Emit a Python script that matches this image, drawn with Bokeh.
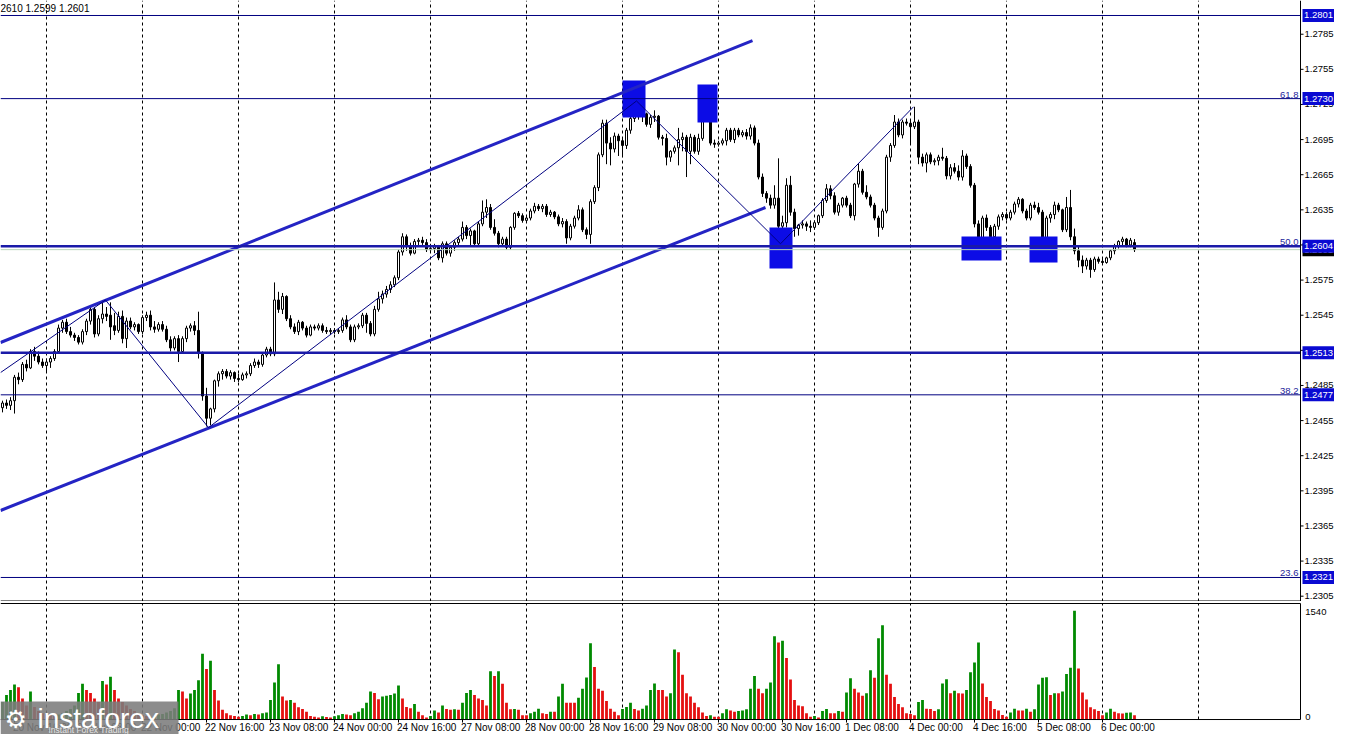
from bokeh.plotting import figure
from bokeh.layouts import column
from bokeh.models import ColumnDataSource, FixedTicker, Grid, Range1d
from bokeh.core.properties import value
from bokeh.embed import file_html
from bokeh.resources import INLINE

# ---------------------------------------------------------------- data
# hourly bars, bar 0 = 21 Nov 00:00 (weekends skipped); prices in pips above 1.0000
FIRST_BAR = -11

OPEN_PIPS = [
    2466, 2470, 2468, 2472, 2492, 2490, 2503, 2500, 2514, 2510, 2505,
    2502, 2505, 2508, 2514, 2534, 2539, 2531, 2528, 2526, 2522,
    2531, 2540, 2550, 2529, 2542, 2546, 2545, 2536, 2532, 2544,
    2525, 2540, 2535, 2537, 2531, 2543, 2545, 2535, 2533, 2537,
    2533, 2524, 2517, 2525, 2514, 2525, 2534, 2536, 2532, 2513,
    2476, 2457, 2465, 2489, 2495, 2497, 2493, 2496, 2491, 2490,
    2494, 2495, 2502, 2505, 2503, 2511, 2516, 2512, 2558, 2550,
    2561, 2542, 2535, 2531, 2539, 2534, 2528, 2535, 2534, 2536,
    2532, 2531, 2532, 2531, 2532, 2541, 2535, 2524, 2535, 2536,
    2545, 2538, 2529, 2550, 2559, 2563, 2567, 2571, 2577, 2599,
    2612, 2604, 2598, 2608, 2609, 2607, 2601, 2602, 2604, 2594,
    2606, 2598, 2603, 2607, 2610, 2620, 2613, 2617, 2606, 2623,
    2633, 2637, 2620, 2615, 2606, 2610, 2603, 2620, 2632, 2630,
    2626, 2628, 2634, 2638, 2636, 2638, 2631, 2633, 2629, 2623,
    2625, 2611, 2621, 2628, 2635, 2618, 2614, 2642, 2654, 2682,
    2709, 2692, 2687, 2698, 2694, 2690, 2703, 2713, 2719, 2715,
    2717, 2708, 2714, 2715, 2697, 2696, 2680, 2685, 2688, 2695,
    2697, 2685, 2697, 2685, 2696, 2716, 2720, 2692, 2691, 2692,
    2694, 2703, 2695, 2703, 2699, 2701, 2698, 2705, 2692, 2663,
    2649, 2645, 2639, 2645, 2621, 2624, 2656, 2633, 2619, 2622,
    2623, 2621, 2620, 2624, 2630, 2643, 2653, 2647, 2633, 2639,
    2645, 2639, 2630, 2657, 2668, 2650, 2646, 2639, 2628, 2620,
    2634, 2680, 2690, 2710, 2699, 2710, 2709, 2706, 2710, 2680,
    2675, 2682, 2676, 2677, 2680, 2679, 2664, 2671, 2668, 2663,
    2681, 2672, 2656, 2623, 2610, 2628, 2620, 2612, 2621, 2629,
    2631, 2628, 2633, 2640, 2644, 2634, 2628, 2639, 2637, 2633,
    2611, 2628, 2631, 2639, 2635, 2618, 2637, 2612, 2600, 2592,
    2587, 2592, 2584, 2593, 2591, 2590, 2594, 2600, 2604, 2608,
    2610, 2605, 2607,
]
HIGH_PIPS = [
    2472, 2473, 2475, 2494, 2496, 2505, 2507, 2516, 2518, 2514, 2508,
    2508, 2510, 2516, 2537, 2541, 2542, 2535, 2530, 2528, 2533,
    2542, 2552, 2552, 2545, 2558, 2552, 2556, 2547, 2548, 2549,
    2543, 2543, 2539, 2538, 2545, 2548, 2549, 2540, 2539, 2540,
    2536, 2527, 2527, 2528, 2527, 2536, 2538, 2540, 2548, 2514,
    2483, 2466, 2490, 2497, 2499, 2499, 2498, 2497, 2495, 2496,
    2497, 2504, 2508, 2507, 2513, 2518, 2518, 2573, 2565, 2564,
    2562, 2545, 2538, 2541, 2540, 2536, 2537, 2537, 2538, 2538,
    2535, 2534, 2534, 2534, 2543, 2545, 2537, 2537, 2538, 2547,
    2547, 2540, 2553, 2565, 2566, 2570, 2574, 2579, 2601, 2615,
    2614, 2607, 2610, 2611, 2612, 2610, 2606, 2606, 2605, 2608,
    2608, 2605, 2609, 2612, 2625, 2622, 2619, 2618, 2625, 2643,
    2644, 2640, 2627, 2617, 2612, 2612, 2621, 2633, 2634, 2632,
    2630, 2636, 2641, 2640, 2640, 2640, 2635, 2634, 2631, 2628,
    2627, 2623, 2630, 2639, 2637, 2620, 2644, 2656, 2684, 2712,
    2712, 2697, 2701, 2700, 2696, 2705, 2716, 2722, 2727, 2720,
    2718, 2716, 2720, 2716, 2699, 2700, 2686, 2690, 2705, 2701,
    2699, 2700, 2699, 2700, 2718, 2726, 2722, 2695, 2694, 2696,
    2705, 2705, 2705, 2705, 2703, 2704, 2708, 2707, 2695, 2666,
    2651, 2648, 2656, 2679, 2630, 2662, 2664, 2636, 2623, 2626,
    2625, 2626, 2626, 2631, 2645, 2657, 2656, 2650, 2641, 2646,
    2647, 2641, 2658, 2675, 2670, 2656, 2648, 2641, 2630, 2636,
    2682, 2692, 2716, 2713, 2712, 2713, 2711, 2723, 2712, 2683,
    2684, 2684, 2679, 2682, 2688, 2681, 2674, 2675, 2673, 2686,
    2683, 2674, 2658, 2626, 2630, 2631, 2622, 2623, 2631, 2633,
    2633, 2635, 2642, 2646, 2645, 2636, 2641, 2642, 2641, 2635,
    2630, 2633, 2642, 2641, 2636, 2646, 2652, 2619, 2604, 2596,
    2594, 2594, 2595, 2595, 2594, 2595, 2601, 2606, 2609, 2612,
    2611, 2611, 2610,
]
LOW_PIPS = [
    2462, 2465, 2464, 2461, 2486, 2488, 2497, 2499, 2506, 2503, 2500,
    2497, 2500, 2506, 2512, 2530, 2529, 2526, 2523, 2520, 2520,
    2528, 2537, 2526, 2527, 2538, 2540, 2524, 2528, 2530, 2521,
    2517, 2533, 2532, 2529, 2529, 2540, 2532, 2530, 2531, 2531,
    2522, 2514, 2515, 2505, 2512, 2522, 2531, 2528, 2508, 2472,
    2450, 2451, 2462, 2484, 2490, 2491, 2490, 2488, 2488, 2489,
    2491, 2493, 2500, 2500, 2501, 2509, 2510, 2510, 2547, 2546,
    2540, 2533, 2529, 2528, 2532, 2526, 2527, 2532, 2532, 2530,
    2529, 2528, 2529, 2529, 2530, 2533, 2522, 2522, 2533, 2534,
    2530, 2527, 2527, 2548, 2555, 2560, 2564, 2569, 2575, 2596,
    2600, 2596, 2597, 2605, 2605, 2599, 2600, 2598, 2592, 2590,
    2596, 2595, 2600, 2604, 2608, 2610, 2604, 2604, 2604, 2621,
    2628, 2618, 2613, 2603, 2604, 2601, 2601, 2618, 2628, 2624,
    2624, 2626, 2632, 2634, 2633, 2629, 2629, 2627, 2621, 2620,
    2606, 2609, 2619, 2626, 2616, 2610, 2606, 2640, 2651, 2680,
    2674, 2673, 2684, 2681, 2680, 2687, 2700, 2710, 2712, 2710,
    2706, 2705, 2710, 2695, 2690, 2673, 2676, 2683, 2673, 2685,
    2663, 2674, 2683, 2682, 2694, 2711, 2690, 2688, 2689, 2690,
    2690, 2693, 2692, 2697, 2697, 2695, 2695, 2690, 2661, 2646,
    2641, 2636, 2636, 2610, 2607, 2620, 2630, 2612, 2613, 2619,
    2617, 2616, 2618, 2622, 2628, 2641, 2644, 2631, 2630, 2637,
    2637, 2628, 2626, 2654, 2648, 2644, 2637, 2626, 2612, 2618,
    2632, 2676, 2688, 2697, 2696, 2707, 2692, 2704, 2674, 2672,
    2667, 2674, 2673, 2673, 2677, 2661, 2661, 2666, 2660, 2660,
    2670, 2654, 2620, 2605, 2607, 2617, 2607, 2606, 2618, 2626,
    2626, 2626, 2631, 2637, 2632, 2626, 2626, 2635, 2631, 2609,
    2609, 2624, 2627, 2633, 2616, 2616, 2609, 2597, 2586, 2581,
    2584, 2577, 2582, 2589, 2588, 2589, 2592, 2597, 2602, 2604,
    2603, 2603, 2599,
]
CLOSE_PIPS = [
    2470, 2468, 2472, 2492, 2490, 2503, 2500, 2514, 2510, 2505, 2502,
    2505, 2508, 2514, 2534, 2539, 2531, 2528, 2526, 2522, 2531,
    2540, 2550, 2529, 2542, 2546, 2544, 2535, 2532, 2544, 2525,
    2540, 2535, 2537, 2531, 2543, 2545, 2535, 2533, 2537, 2533,
    2524, 2517, 2525, 2514, 2525, 2534, 2536, 2532, 2513, 2476,
    2457, 2465, 2489, 2495, 2497, 2493, 2496, 2491, 2490, 2494,
    2495, 2502, 2505, 2503, 2511, 2516, 2512, 2558, 2550, 2561,
    2542, 2535, 2531, 2539, 2534, 2528, 2535, 2534, 2536, 2532,
    2531, 2532, 2531, 2532, 2541, 2535, 2524, 2535, 2536, 2545,
    2538, 2529, 2550, 2559, 2563, 2567, 2571, 2577, 2599, 2612,
    2604, 2598, 2608, 2609, 2607, 2601, 2602, 2604, 2594, 2606,
    2598, 2603, 2607, 2610, 2620, 2613, 2617, 2606, 2623, 2633,
    2637, 2620, 2615, 2606, 2610, 2603, 2620, 2632, 2630, 2626,
    2628, 2634, 2638, 2636, 2638, 2631, 2633, 2629, 2623, 2625,
    2611, 2621, 2628, 2635, 2618, 2614, 2642, 2654, 2682, 2709,
    2692, 2687, 2698, 2694, 2690, 2703, 2713, 2719, 2715, 2717,
    2708, 2714, 2715, 2697, 2696, 2680, 2685, 2688, 2695, 2697,
    2685, 2697, 2685, 2696, 2716, 2720, 2692, 2691, 2692, 2694,
    2703, 2695, 2703, 2699, 2701, 2698, 2705, 2692, 2663, 2649,
    2645, 2639, 2645, 2621, 2624, 2656, 2633, 2619, 2622, 2623,
    2621, 2620, 2624, 2630, 2643, 2653, 2647, 2633, 2639, 2645,
    2639, 2630, 2657, 2668, 2650, 2646, 2639, 2628, 2620, 2634,
    2680, 2690, 2710, 2699, 2710, 2709, 2706, 2710, 2680, 2675,
    2682, 2676, 2677, 2680, 2679, 2664, 2671, 2668, 2663, 2681,
    2672, 2656, 2623, 2610, 2628, 2620, 2612, 2621, 2629, 2631,
    2628, 2633, 2640, 2644, 2634, 2628, 2639, 2637, 2633, 2611,
    2628, 2631, 2639, 2635, 2618, 2637, 2612, 2600, 2592, 2587,
    2592, 2584, 2593, 2591, 2590, 2594, 2600, 2604, 2608, 2610,
    2605, 2609, 2601,
]
VOLUMES = [
    250, 350, 420, 500, 460, 300, 200, 400, 180, 120, 90,
    80, 60, 50, 70, 90, 120, 150, 200, 380, 510, 420, 380, 300, 250, 550, 500, 610, 420, 300, 250, 200, 150, 120, 90,
    60, 50, 40, 50, 70, 80, 100, 120, 160, 420, 400, 300, 370, 420, 560, 940, 720, 840, 420, 270, 140, 90, 60, 50,
    40, 50, 70, 60, 80, 70, 90, 100, 280, 530, 790, 330, 270, 280, 240, 175, 150, 110, 50, 40, 30, 45, 35, 30,
    45, 60, 80, 70, 60, 90, 110, 160, 240, 400, 380, 290, 330, 340, 350, 370, 485, 300, 180, 160, 220, 110, 60, 30,
    50, 130, 100, 200, 150, 140, 145, 140, 240, 380, 420, 350, 300, 280, 200, 690, 620, 690, 510, 240, 145, 150, 140, 60,
    60, 90, 110, 155, 90, 80, 110, 110, 330, 510, 240, 240, 240, 310, 440, 600, 1090, 750, 440, 410, 265, 155, 110, 60,
    150, 180, 240, 150, 130, 155, 200, 420, 515, 420, 420, 330, 375, 1000, 960, 640, 375, 330, 240, 175, 100, 50, 60, 40,
    40, 90, 145, 130, 110, 120, 130, 145, 440, 620, 440, 375, 440, 530, 1190, 1100, 1125, 880, 570, 280, 200, 190, 90, 40,
    50, 30, 120, 150, 90, 90, 120, 110, 385, 590, 440, 385, 340, 375, 705, 595, 1160, 1345, 640, 510, 320, 220, 175, 90,
    80, 60, 250, 280, 155, 150, 120, 145, 515, 575, 375, 410, 375, 370, 420, 675, 815, 1100, 515, 320, 265, 150, 130, 65,
    40, 100, 155, 130, 130, 155, 110, 145, 500, 595, 605, 350, 375, 375, 400, 650, 740, 1555, 730, 385, 285, 175, 145, 120,
    60, 100, 155, 110, 90, 85, 95, 100, 60,
]

PRICE_TICKS = [1.2305, 1.2335, 1.2365, 1.2395, 1.2425, 1.2455, 1.2485, 1.2515, 1.2545,
               1.2575, 1.2605, 1.2635, 1.2665, 1.2695, 1.2725, 1.2755, 1.2785]
VOLUME_TICKS = [0, 1540]
VOLUME_TICK_LABELS = ["0", "1540"]
DAY_GRID_BARS = [0, 24, 48, 72, 96, 120, 144, 168, 192, 216, 240, 264, 288]
TIME_TICK_BARS = [-8, 8, 24, 40, 56, 72, 88, 104, 120, 136, 152, 168, 184, 200, 216, 232, 248, 264]
TIME_TICK_LABELS = ["20 Nov 16:00", "21 Nov 08:00", "22 Nov 00:00", "22 Nov 16:00", "23 Nov 08:00",
                    "24 Nov 00:00", "24 Nov 16:00", "27 Nov 08:00", "28 Nov 00:00", "28 Nov 16:00",
                    "29 Nov 08:00", "30 Nov 00:00", "30 Nov 16:00", "1 Dec 08:00", "4 Dec 00:00",
                    "4 Dec 16:00", "5 Dec 08:00", "6 Dec 00:00"]

THIN_LEVELS = [1.2801, 1.2730, 1.2477, 1.2321]
THICK_LEVELS = [1.2604, 1.2513]
BID_PRICE = 1.2601
FIB_TEXTS = ["61.8", "50.0", "38.2", "23.6"]
FIB_PRICES = [1.2730, 1.2604, 1.2477, 1.2321]
MARKED_PRICES = [1.2801, 1.2730, 1.2604, 1.2513, 1.2477, 1.2321]

UPPER_CHANNEL_BARS = [-11.5, 176.5]
UPPER_CHANNEL_PRICES = [1.25217, 1.27796]
LOWER_CHANNEL_BARS = [-11.5, 179.75]
LOWER_CHANNEL_PRICES = [1.23782, 1.26370]
ZIGZAG_BARS = [-11.5, 14.75, 40.5, 147.5, 183.5, 216.75]
ZIGZAG_PRICES = [1.2496, 1.2558, 1.2449, 1.2728, 1.2606, 1.2723]

ZONE_LEFT = [144.0, 162.75, 180.75, 228.75, 245.75]
ZONE_RIGHT = [149.75, 167.75, 186.5, 238.75, 252.75]
ZONE_TOP = [1.27455, 1.27421, 1.26199, 1.26122, 1.26122]
ZONE_BOTTOM = [1.27139, 1.27096, 1.25849, 1.25917, 1.25900]

HEADER_TEXT = "2610 1.2599 1.2601"

# ---------------------------------------------------------------- geometry
n = len(CLOSE_PIPS)
for arr in (OPEN_PIPS, HIGH_PIPS, LOW_PIPS, VOLUMES):
    if len(arr) != n:
        raise ValueError("length mismatch %d vs %d" % (len(arr), n))

FONT = value("Liberation Sans")
W = 1334
PX_PER_BAR = 4.0
X0 = -11.5
X1 = X0 + W / PX_PER_BAR
AXIS_BAR = 313.5                # right price scale line
PRICE_PX = 11708.0              # pixels per 1.0 of price
P_TOP = 1.28138
P_H = 601
P_BOT = P_TOP - P_H / PRICE_PX
V_PX = 0.07                     # pixels per volume unit
V_H = 133
V_TOP = 1686.0
V_BOT = V_TOP - V_H / V_PX

x_range = Range1d(X0, X1)

bars = list(range(FIRST_BAR, FIRST_BAR + n))
o = [1 + q / 10000 for q in OPEN_PIPS]
h = [1 + q / 10000 for q in HIGH_PIPS]
l = [1 + q / 10000 for q in LOW_PIPS]
c = [1 + q / 10000 for q in CLOSE_PIPS]
src = ColumnDataSource(dict(
    bar=bars, high=h, low=l,
    top=[max(a, b) for a, b in zip(o, c)],
    bottom=[min(a, b) for a, b in zip(o, c)],
    fill=["white" if cc >= oo else "black" for oo, cc in zip(o, c)],
))


def bare_figure(height, y_range):
    f = figure(width=W, height=height, x_range=x_range, y_range=y_range,
               output_backend="svg", toolbar_location=None,
               x_axis_location=None, y_axis_location=None,
               min_border=0, min_border_left=0, min_border_right=0,
               min_border_top=0, min_border_bottom=0)
    f.outline_line_color = None
    f.background_fill_color = "white"
    f.border_fill_color = "white"
    f.grid.visible = False
    return f


# ---------------------------------------------------------------- price panel
p = bare_figure(P_H, Range1d(P_BOT, P_TOP))
p.add_layout(Grid(dimension=0, ticker=FixedTicker(ticks=DAY_GRID_BARS),
                  grid_line_color="black", grid_line_dash="3 3", grid_line_width=1))

# candles
p.segment(x0="bar", y0="low", x1="bar", y1="high", source=src, line_color="black", line_width=1)
p.vbar(x="bar", width=0.5, top="top", bottom="bottom", source=src,
       fill_color="fill", line_color="black", line_width=1)

# zones
p.quad(left=ZONE_LEFT, right=ZONE_RIGHT, top=ZONE_TOP, bottom=ZONE_BOTTOM,
       fill_color="#0c0ce6", line_color=None)

# channel and zigzag
CH_COLOR = "#2424c4"
p.line(UPPER_CHANNEL_BARS, UPPER_CHANNEL_PRICES, line_color=CH_COLOR, line_width=3)
p.line(LOWER_CHANNEL_BARS, LOWER_CHANNEL_PRICES, line_color=CH_COLOR, line_width=3)
p.line(ZIGZAG_BARS, ZIGZAG_PRICES, line_color="#000080", line_width=1)

# horizontal levels (end at the price scale)
p.segment(x0=[X0] * len(THIN_LEVELS), y0=THIN_LEVELS, x1=[AXIS_BAR] * len(THIN_LEVELS),
          y1=THIN_LEVELS, line_color="#000080", line_width=1)
p.segment(x0=[X0], y0=[BID_PRICE], x1=[AXIS_BAR], y1=[BID_PRICE], line_color="#b8d4b8", line_width=1)
p.segment(x0=[X0] * len(THICK_LEVELS), y0=THICK_LEVELS, x1=[AXIS_BAR] * len(THICK_LEVELS),
          y1=THICK_LEVELS, line_color="#1a1aa8", line_width=2.5)

p.text(x=[AXIS_BAR - 0.5] * len(FIB_TEXTS), y=FIB_PRICES, text=FIB_TEXTS, text_align="right",
       text_baseline="bottom", y_offset=-1, text_font=FONT, text_font_size=value("9.5px"),
       text_color="#24249a")

# panel bottom border
bottom_line = P_BOT + 0.5 / PRICE_PX
p.segment(x0=[X0], y0=[bottom_line], x1=[AXIS_BAR], y1=[bottom_line], line_color="black", line_width=1)

# right price scale
p.segment(x0=[AXIS_BAR], y0=[P_BOT], x1=[AXIS_BAR], y1=[P_TOP], line_color="black", line_width=1)
p.segment(x0=[AXIS_BAR] * len(PRICE_TICKS), y0=PRICE_TICKS,
          x1=[AXIS_BAR + 0.75] * len(PRICE_TICKS), y1=PRICE_TICKS, line_color="black", line_width=1)
p.text(x=[AXIS_BAR + 1.0] * len(PRICE_TICKS), y=PRICE_TICKS, text=["%.4f" % t for t in PRICE_TICKS],
       text_align="left", text_baseline="middle", text_font=FONT, text_font_size=value("9.5px"),
       text_color="black")

box_half = 6.5 / PRICE_PX
p.quad(left=[AXIS_BAR + 0.5], right=[X1], top=[BID_PRICE + box_half], bottom=[BID_PRICE - box_half],
       fill_color="black", line_color=None)
p.text(x=[AXIS_BAR + 0.9], y=[BID_PRICE], text=["%.4f" % BID_PRICE], text_align="left",
       text_baseline="middle", text_font=FONT, text_font_size=value("9.5px"), text_color="white")
p.quad(left=[AXIS_BAR + 0.5] * len(MARKED_PRICES), right=[X1] * len(MARKED_PRICES),
       top=[m + box_half for m in MARKED_PRICES], bottom=[m - box_half for m in MARKED_PRICES],
       fill_color="#0a0ad2", line_color=None)
p.text(x=[AXIS_BAR + 0.9] * len(MARKED_PRICES), y=MARKED_PRICES, text=["%.4f" % m for m in MARKED_PRICES],
       text_align="left", text_baseline="middle", text_font=FONT, text_font_size=value("9.5px"),
       text_color="white")

# header
p.text(x=[X0], y=[P_TOP - 2.0 / PRICE_PX], text=[HEADER_TEXT], text_align="left", text_baseline="top",
       text_font=FONT, text_font_size=value("10px"), text_color="black")

# ---------------------------------------------------------------- volume panel
vcolors = ["#008a00" if i == 0 or VOLUMES[i] > VOLUMES[i - 1] else "#e41010" for i in range(n)]
vsrc = ColumnDataSource(dict(bar=bars, vol=VOLUMES, color=vcolors))

v = bare_figure(V_H, Range1d(V_BOT, V_TOP))
top_line = V_TOP - 2.0 / V_PX
v.segment(x0=DAY_GRID_BARS, y0=[0] * len(DAY_GRID_BARS), x1=DAY_GRID_BARS,
          y1=[top_line] * len(DAY_GRID_BARS), line_color="black", line_dash="3 3", line_width=1)
v.vbar(x="bar", width=0.7, top="vol", bottom=0, source=vsrc, fill_color="color", line_color=None)

v.segment(x0=[X0], y0=[top_line], x1=[AXIS_BAR], y1=[top_line], line_color="black", line_width=1)
v.segment(x0=[X0], y0=[0], x1=[AXIS_BAR], y1=[0], line_color="black", line_width=1)
v.segment(x0=[AXIS_BAR], y0=[0], x1=[AXIS_BAR], y1=[top_line], line_color="black", line_width=1)

# volume scale labels
v.text(x=[AXIS_BAR + 1.2], y=[VOLUME_TICKS[1]], text=[VOLUME_TICK_LABELS[1]], text_align="left",
       text_baseline="middle", text_font=FONT, text_font_size=value("9.5px"), text_color="black")
v.text(x=[AXIS_BAR + 1.2], y=[VOLUME_TICKS[0]], text=[VOLUME_TICK_LABELS[0]], text_align="left",
       text_baseline="bottom", text_font=FONT, text_font_size=value("9.5px"), text_color="black")

# time scale
tick_len = 3.0 / V_PX
v.segment(x0=TIME_TICK_BARS, y0=[0] * len(TIME_TICK_BARS), x1=TIME_TICK_BARS,
          y1=[-tick_len] * len(TIME_TICK_BARS), line_color="black", line_width=1)
v.text(x=[b - 0.4 for b in TIME_TICK_BARS], y=[-2.5 / V_PX] * len(TIME_TICK_BARS), text=TIME_TICK_LABELS,
       text_align="left", text_baseline="top", text_font=FONT, text_font_size=value("10px"),
       text_color="black")

# watermark logo
logo_top = V_TOP - 100.0 / V_PX
v.quad(left=[X0], right=[X0 + 178 / PX_PER_BAR], top=[logo_top], bottom=[V_BOT],
       fill_color="#7c7c7c", fill_alpha=0.88, line_color=None)
v.text(x=[X0 + 4 / PX_PER_BAR], y=[V_TOP - 103.0 / V_PX], text=["\u2699"], text_align="left",
       text_baseline="top", text_font=value("DejaVu Sans"), text_font_size=value("25px"),
       text_color="white")
v.text(x=[X0 + 37 / PX_PER_BAR], y=[V_TOP - 101.0 / V_PX], text=["instaforex"], text_align="left",
       text_baseline="top", text_font=FONT, text_font_size=value("28px"), text_color="white")
v.text(x=[X0 + 48 / PX_PER_BAR], y=[V_TOP - 123.5 / V_PX], text=["Instant Forex Trading"],
       text_align="left", text_baseline="top", text_font=FONT, text_font_size=value("8.5px"),
       text_color="#e4e4e4")

layout = column(p, v, spacing=0)
open("out.html", "w").write(file_html(layout, INLINE))
